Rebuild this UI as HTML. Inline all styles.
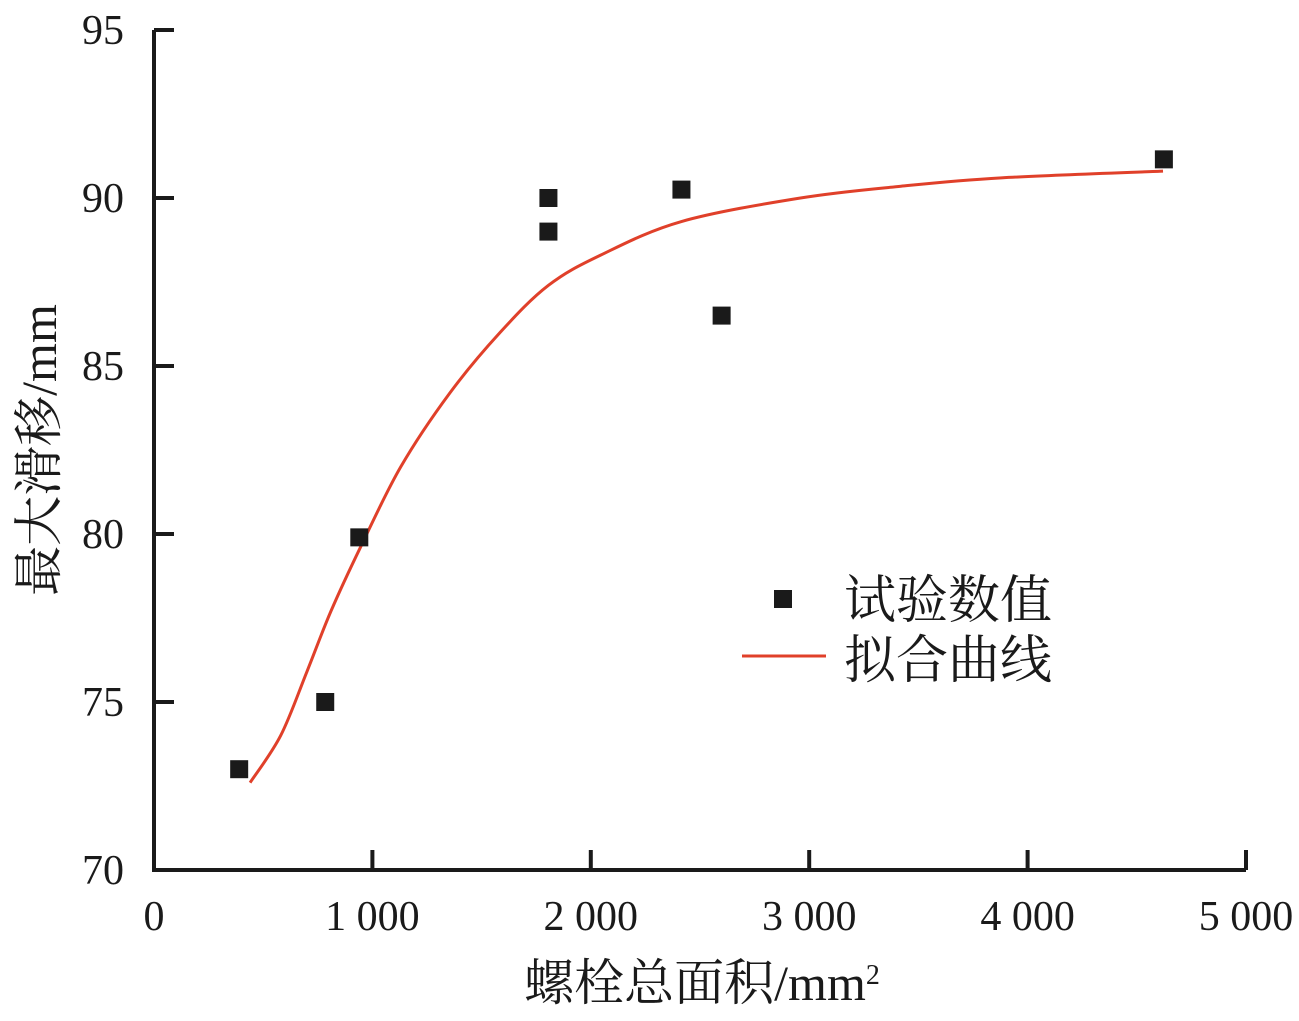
<!DOCTYPE html>
<html><head><meta charset="utf-8"><style>
body{margin:0;background:#fff;}
svg text{font-family:"Liberation Serif","Noto Serif CJK SC",serif;fill:#1a1a1a;}
</style></head><body>
<svg width="1299" height="1016" id="c">
<g id="g"></g>
</svg>
<script>
const xTicks=[0,1000,2000,3000,4000,5000];
const xTickLabels=["0","1 000","2 000","3 000","4 000","5 000"];
const yTicks=[70,75,80,85,90,95];
const yTickLabels=["70","75","80","85","90","95"];
const expX=[390,784,940,1806,1806,2415,2599,4624];
const expY=[73.0,75.0,79.9,90.0,89.0,90.25,86.5,91.15];
const fitX=[440,580,700,810,945,1130,1355,1585,1806,2045,2415,2960,3420,3880,4620];
const fitY=[72.6,74.0,75.9,77.7,79.6,82.0,84.2,86.0,87.4,88.3,89.3,90.0,90.35,90.6,90.8];
const X0=154,X1=1246,Y0=870,Y1=30;
const sx=v=>X0+(v-0)/5000*(X1-X0);
const sy=v=>Y0-(v-70)/25*(Y0-Y1);
const NS="http://www.w3.org/2000/svg";
const g=document.getElementById('g');
function mk(t,a){const e=document.createElementNS(NS,t);for(const k in a)e.setAttribute(k,a[k]);g.appendChild(e);return e;}
let e;
e=mk('path',{d:`M${X0},${Y1} V${Y0} H${X1}`,fill:'none',stroke:'#1a1a1a','stroke-width':4});


xTicks.forEach((v,i)=>{
 e=mk('line',{x1:sx(v),x2:sx(v),y1:Y0,y2:Y0-20,stroke:'#1a1a1a','stroke-width':4});
 
 
 e=mk('text',{x:sx(v),y:930,'font-size':42,'text-anchor':'middle'});e.textContent=xTickLabels[i];
 
 
});
yTicks.forEach((v,i)=>{
 e=mk('line',{x1:X0,x2:X0+20,y1:sy(v),y2:sy(v),stroke:'#1a1a1a','stroke-width':4});
 
 
 e=mk('text',{x:124,y:sy(v)+14,'font-size':42,'text-anchor':'end'});e.textContent=yTickLabels[i];
 
 
});
const P=fitX.map((v,i)=>[sx(v),sy(fitY[i])]);
let d='M'+P[0][0]+','+P[0][1];
for(let i=0;i<P.length-1;i++){
 const p0=P[Math.max(0,i-1)],p1=P[i],p2=P[i+1],p3=P[Math.min(P.length-1,i+2)];
 d+=` C${p1[0]+(p2[0]-p0[0])/6},${p1[1]+(p2[1]-p0[1])/6} ${p2[0]-(p3[0]-p1[0])/6},${p2[1]-(p3[1]-p1[1])/6} ${p2[0]},${p2[1]}`;
}
e=mk('path',{d:d,fill:'none',stroke:'#e0402a','stroke-width':3,'stroke-linejoin':'round'});


expX.forEach((v,i)=>{
 e=mk('rect',{x:sx(v)-9,y:sy(expY[i])-9,width:18,height:18,fill:'#1a1a1a'});
 
 
});
e=mk('rect',{x:774,y:590,width:18,height:18,fill:'#1a1a1a'});


e=mk('text',{x:844,y:618,'font-size':52});e.textContent='试验数值';


e=mk('line',{x1:742,x2:826,y1:656,y2:656,stroke:'#e0402a','stroke-width':3});


e=mk('text',{x:844,y:678,'font-size':52});e.textContent='拟合曲线';


e=mk('text',{x:702,y:1000,'font-size':50,'text-anchor':'middle'});
e.innerHTML='螺栓总面积/mm<tspan dy="-16" font-size="28">2</tspan>';


e=mk('text',{x:0,y:0,'font-size':50,'text-anchor':'middle',transform:'translate(56,450) rotate(-90)'});e.textContent='最大滑移/mm';


</script>
</body></html>
